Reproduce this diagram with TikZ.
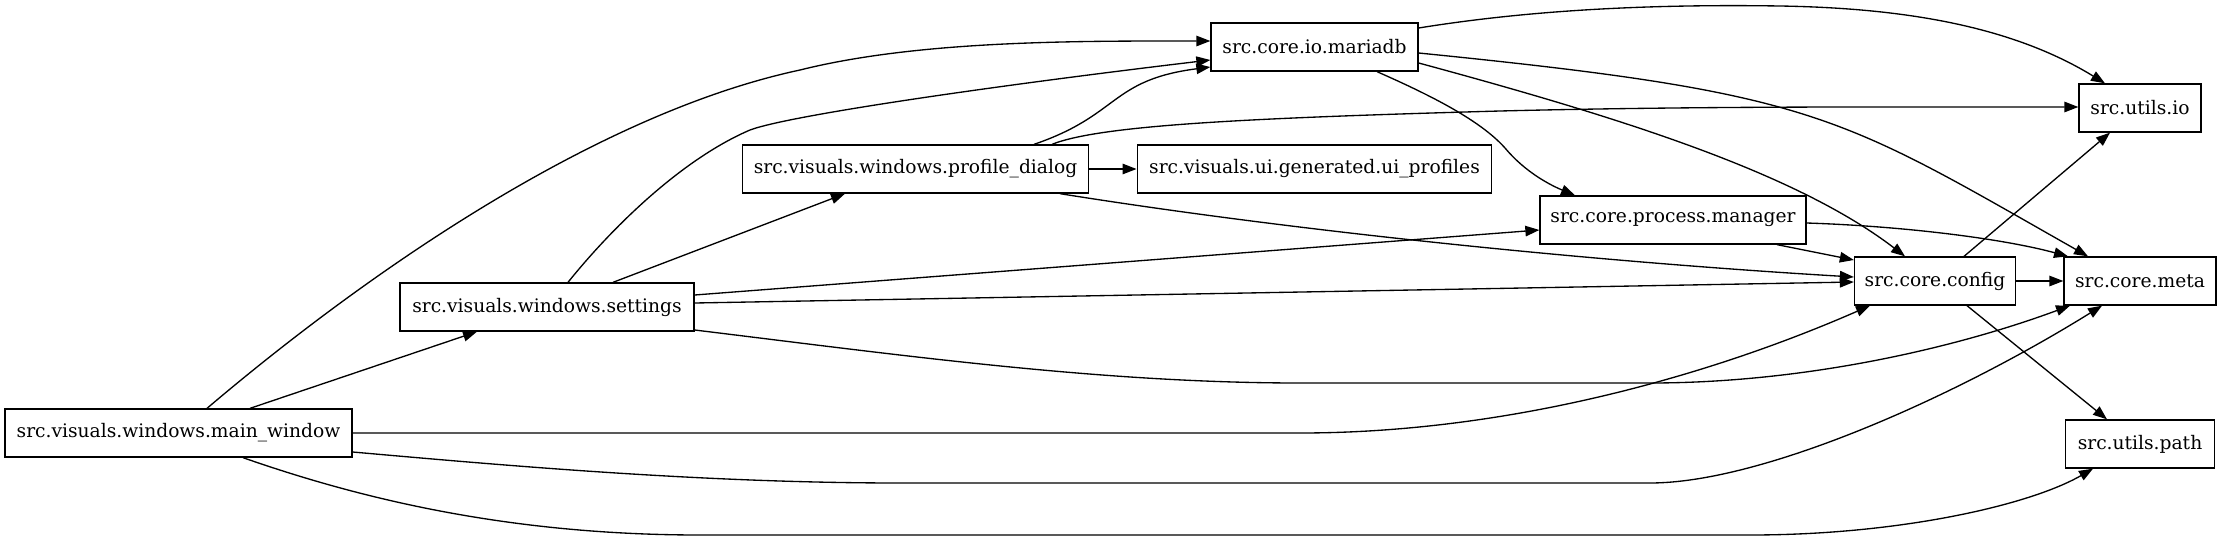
\documentclass[tikz,border=0pt]{standalone}
\usepackage{fontspec}
\setmainfont{DejaVu Serif}
\usetikzlibrary{arrows.meta}

\tikzset{
  modbox/.style={draw, rectangle, line width=1.33pt, minimum height=48pt, inner sep=0pt,
    font=\fontsize{18.67}{22}\selectfont},
  depedge/.style={line width=1.33pt, -{Triangle[length=14pt, width=10.5pt]}}
}

\begin{document}
\begin{tikzpicture}[x=1pt, y=-1pt]
\useasboundingbox (0,0) rectangle (2221,541);

\node[modbox, minimum width=347pt] (mainwin) at (178.5,433) {src.visuals.windows.main\_window};
\node[modbox, minimum width=294pt] (settings) at (547,307) {src.visuals.windows.settings};
\node[modbox, minimum width=346.5pt] (profdlg) at (915.5,169) {src.visuals.windows.profile\_dialog};
\node[modbox, minimum width=354.6pt] (uiprof) at (1314.5,169) {src.visuals.ui.generated.ui\_profiles};
\node[modbox, minimum width=207pt] (mariadb) at (1314.5,47) {src.core.io.mariadb};
\node[modbox, minimum width=266pt] (procmgr) at (1673,220) {src.core.process.manager};
\node[modbox, minimum width=161pt] (config) at (1935,281) {src.core.config};
\node[modbox, minimum width=152pt] (meta) at (2140,281) {src.core.meta};
\node[modbox, minimum width=122pt] (utilsio) at (2140,108) {src.utils.io};
\node[modbox, minimum width=148.5pt] (utilspath) at (2140,444) {src.utils.path};

% main_window
\draw[depedge] ([xshift=28.5pt]mainwin.north) .. controls (357,281) and (590,115) .. (800,70)
  .. controls (920,40) and (1080,41) .. ([yshift=6pt]mariadb.west);
\draw[depedge] ([xshift=71.5pt]mainwin.north) -- ([xshift=-70pt]settings.south);
\draw[depedge] (mainwin.east) -- (1300,433) .. controls (1500,433) and (1700,380) .. ([xshift=-65pt]config.south);
\draw[depedge] ([yshift=-19pt]mainwin.east) .. controls (500,465) and (700,483) .. (900,483) -- (1650,483)
  .. controls (1760,483) and (1950,400) .. ([xshift=-38pt]meta.south);
\draw[depedge] ([xshift=64.5pt]mainwin.south) .. controls (350,495) and (500,535) .. (700,535) -- (1750,535)
  .. controls (1900,535) and (2030,505) .. ([xshift=-47pt]utilspath.south);

% settings
\draw[depedge] ([xshift=21pt]settings.north) .. controls (610,230) and (680,160) .. (750,130)
  .. controls (790,115) and (1000,85) .. ([yshift=-13pt]mariadb.west);
\draw[depedge] ([xshift=66pt]settings.north) -- ([xshift=-70.5pt]profdlg.south);
\draw[depedge] ([yshift=12pt]settings.east) -- ([yshift=-10pt]procmgr.west);
\draw[depedge] ([yshift=4pt]settings.east) -- ([yshift=-1pt]config.west);
\draw[depedge] ([yshift=-23pt]settings.east) .. controls (900,355) and (1100,383) .. (1300,383) -- (1650,383)
  .. controls (1800,383) and (1950,350) .. ([xshift=-70pt]meta.south);

% profile_dialog
\draw[depedge] ([xshift=118.5pt]profdlg.north) .. controls (1120,115) and (1110,80) .. ([yshift=-20pt]mariadb.west);
\draw[depedge] ([xshift=136.5pt]profdlg.north) .. controls (1100,125) and (1250,118) .. (1500,111)
  .. controls (1700,106) and (1900,107) .. ([yshift=1pt]utilsio.west);
\draw[depedge] (profdlg.east) -- (uiprof.west);
\draw[depedge] ([xshift=144.5pt]profdlg.south) .. controls (1300,232) and (1600,262) .. ([yshift=4pt]config.west);

% mariadb
\draw[depedge] ([yshift=19pt]mariadb.east) .. controls (1530,10) and (1650,4) .. (1780,6)
  .. controls (1900,8) and (2010,25) .. ([xshift=-35pt]utilsio.north);
\draw[depedge] ([yshift=-6pt]mariadb.east) .. controls (1818,93) and (1838,114.5) .. ([xshift=-52pt]meta.north);
\draw[depedge] ([yshift=-16pt]mariadb.east) .. controls (1618,117) and (1795,172) .. ([xshift=-30pt]config.north);
\draw[depedge] ([xshift=62.5pt]mariadb.south) .. controls (1430,95) and (1480,120) .. (1505,148)
  .. controls (1525,172) and (1550,185) .. ([xshift=-98pt]procmgr.north);

% process.manager
\draw[depedge] ([xshift=104pt]procmgr.south) -- ([yshift=21pt]config.west);
\draw[depedge] ([yshift=-3pt]procmgr.east) .. controls (1900,226) and (2000,238) .. ([xshift=-72pt]meta.north);

% config
\draw[depedge] (config.east) -- (meta.west);
\draw[depedge] ([xshift=29pt]config.north) -- ([xshift=-30pt]utilsio.south);
\draw[depedge] ([xshift=32pt]config.south) -- ([xshift=-33pt]utilspath.north);
\end{tikzpicture}
\end{document}
